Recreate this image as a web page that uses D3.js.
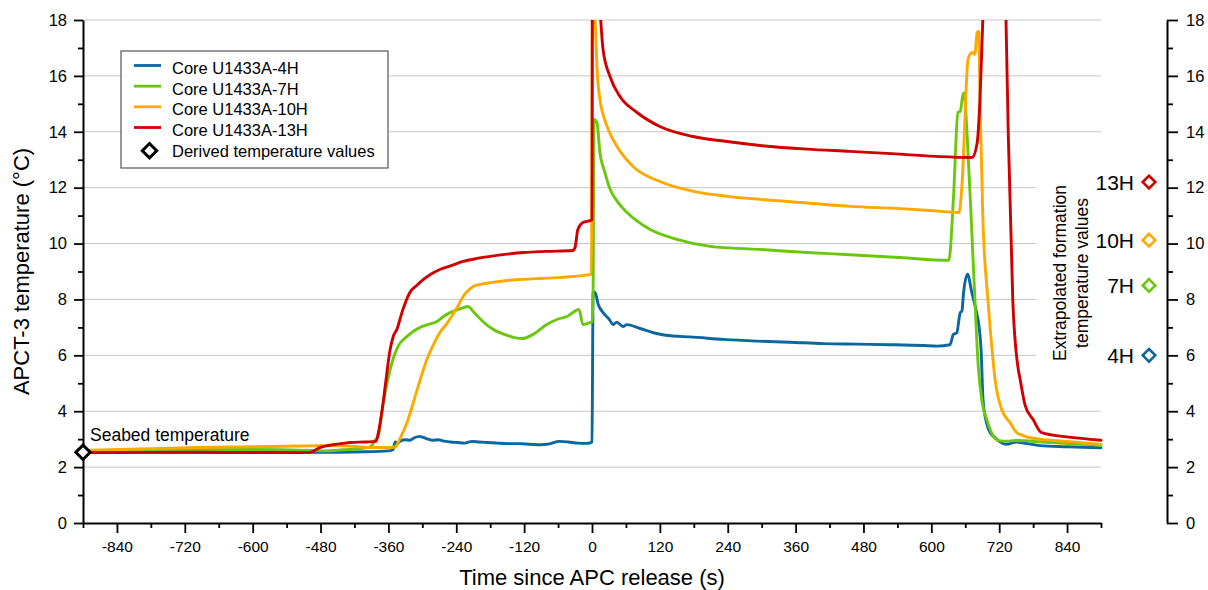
<!DOCTYPE html>
<html><head><meta charset="utf-8">
<script src="https://cdn.jsdelivr.net/npm/d3@7"></script>
<style>
body{margin:0;background:#fff;}
svg text{font-family:"Liberation Sans",Arial,Helvetica,sans-serif;fill:#000;}
</style></head><body>
<svg id="chart" width="1208" height="590"></svg>
<script>
// ---------- data (time since APC release [s], temperature [°C]) ----------
const seriesNames = ["Core U1433A-4H","Core U1433A-7H","Core U1433A-10H","Core U1433A-13H"];
const seriesColors = ["#0b67a0","#6ac70c","#ffa800","#d00000"];

const core4H = [[-900,2.52],[-700,2.53],[-500,2.53],[-400,2.55],[-360,2.58],[-352,2.62],[-348,2.9],[-344,2.85],[-338,2.95],[-330,2.98],[-322,2.96],[-314,3.05],[-305,3.1],[-298,3.06],[-290,3.0],[-282,2.96],[-272,2.98],[-262,2.93],[-250,2.9],[-238,2.88],[-225,2.86],[-212,2.92],[-200,2.9],[-185,2.88],[-168,2.86],[-150,2.84],[-130,2.84],[-110,2.82],[-92,2.8],[-75,2.83],[-58,2.92],[-42,2.9],[-25,2.86],[-10,2.85],[-2,2.88],[0,2.9],[2,8.26],[5.3,8.26],[11,7.82],[20,7.52],[30,7.3],[37.7,7.1],[43.7,7.19],[54.8,7.03],[61.4,7.1],[85,6.96],[114,6.78],[143,6.69],[173,6.66],[232,6.57],[291,6.51],[350,6.47],[409,6.42],[468,6.4],[527,6.38],[586,6.35],[610,6.33],[633,6.38],[639,6.75],[645,6.81],[651,7.52],[654,7.58],[657,8.24],[664,8.9],[671.5,8.25],[680,7.53],[684.4,7.03],[688,6.2],[691.4,4.42],[698,3.55],[705,3.2],[712.7,3.06],[720,2.92],[733,2.82],[750,2.9],[770,2.84],[792,2.77],[840,2.73],[900,2.69]];

const core7H = [[-900,2.55],[-800,2.6],[-700,2.62],[-600,2.63],[-500,2.6],[-470,2.58],[-440,2.62],[-410,2.66],[-392,2.72],[-384,2.95],[-378,3.1],[-370,4.17],[-357,5.49],[-343,6.32],[-327,6.68],[-304,7.0],[-290,7.1],[-274,7.21],[-262,7.4],[-251,7.53],[-235,7.65],[-219,7.75],[-210,7.57],[-193,7.21],[-175,6.93],[-150,6.71],[-124,6.6],[-104,6.75],[-80,7.1],[-60,7.3],[-44,7.39],[-23,7.64],[-16,7.1],[-3.5,7.17],[0,7.2],[2,8.35],[3.5,14.44],[8.8,14.33],[14,13.25],[22,12.6],[32,11.94],[45,11.5],[62,11.11],[80,10.8],[103,10.5],[150,10.15],[209,9.9],[297,9.79],[380,9.68],[456,9.6],[545,9.5],[631,9.4],[639,11.58],[647,14.69],[651,14.73],[656,15.33],[658,15.4],[663,13.97],[670,11.11],[677,8.0],[683,5.6],[690,4.3],[698,3.7],[705,3.3],[710,3.1],[720,2.95],[733,2.93],[750,2.95],[810,2.88],[900,2.78]];

const core10H = [[-900,2.6],[-800,2.65],[-700,2.7],[-600,2.73],[-500,2.76],[-460,2.77],[-420,2.74],[-390,2.7],[-360,2.7],[-348,2.72],[-340,3.0],[-327,3.6],[-309,4.78],[-292,5.85],[-280,6.4],[-269,6.82],[-258,7.1],[-246,7.46],[-236,7.8],[-228,8.1],[-220,8.3],[-210,8.46],[-195,8.55],[-180,8.6],[-150,8.68],[-120,8.72],[-92,8.75],[-60,8.78],[-34,8.82],[-7,8.88],[-1,8.9],[1,20],[3,19],[5.5,18],[8.8,16.3],[14,15.15],[20,14.6],[26.5,14.2],[44,13.48],[72.5,12.76],[120,12.22],[179,11.87],[239,11.69],[297,11.58],[380,11.45],[456,11.33],[545,11.25],[600,11.18],[649,11.11],[654,12.05],[665,16.6],[672,16.84],[677,16.77],[681,17.55],[684,17.6],[686,15.15],[691,10.97],[700,8.0],[709,5.85],[712.7,5.14],[724.5,4.06],[739,3.6],[751,3.23],[757,3.17],[770,3.07],[792,3.0],[840,2.92],[900,2.81]];

const core13H = [[-900,2.52],[-700,2.53],[-600,2.52],[-500,2.52],[-490,2.6],[-481,2.7],[-470,2.76],[-458,2.8],[-440,2.85],[-428,2.88],[-400,2.9],[-382,2.92],[-378,3.2],[-371,4.06],[-365,5.0],[-357,6.2],[-351,6.7],[-345,6.93],[-335,7.6],[-322,8.25],[-310,8.5],[-299,8.7],[-285,8.9],[-269,9.07],[-250,9.2],[-228,9.36],[-205,9.46],[-180,9.54],[-150,9.62],[-122,9.68],[-80,9.72],[-34,9.75],[-30,9.86],[-25,10.5],[-16,10.75],[-2,10.83],[0,10.85],[1,24],[8,21],[11,19.2],[15.4,18],[19.5,16.95],[31.8,15.98],[49.5,15.26],[79.6,14.69],[120,14.19],[179,13.83],[239,13.65],[297,13.51],[380,13.38],[456,13.3],[545,13.2],[615,13.11],[672,13.08],[681,13.6],[686,15.15],[691,18],[700,22],[725,22],[732,18],[736,13.97],[744,8.0],[753,5.6],[757,5.14],[766,4.2],[780,3.7],[795,3.23],[840,3.08],[900,2.96]];

const seriesData = [core4H, core7H, core10H, core13H];

const derivedLabels = ["13H","10H","7H","4H"];
const derivedValues = [12.2, 10.12, 8.5, 6.0];
const derivedColors = ["#d00000","#ffa800","#6ac70c","#0b67a0"];

const seabedTime = -900, seabedTemp = 2.53;

const xMajorTicks = [-840,-720,-600,-480,-360,-240,-120,0,120,240,360,480,600,720,840];
const xTickLabels = ["-840","-720","-600","-480","-360","-240","-120","0","120","240","360","480","600","720","840"];
const xMinorTicks = [-900,-780,-660,-540,-420,-300,-180,-60,60,180,300,420,540,660,780,900];
const yMajorTicks = [0,2,4,6,8,10,12,14,16,18];
const yTickLabels = ["0","2","4","6","8","10","12","14","16","18"];
const yMinorTicks = [1,3,5,7,9,11,13,15,17];
const gridValues = [2,4,6,8,10,12,14,16,18];

// ---------- layout ----------
const svg = d3.select("#chart");
const L = 83, R = 1101, T = 20, B = 523, RA = 1167;
const x = d3.scaleLinear().domain([-900, 900]).range([L, R]);
const y = d3.scaleLinear().domain([0, 18]).range([B, T]);

// grid
svg.append("g").selectAll("line").data(gridValues).join("line")
  .attr("x1", L).attr("x2", R).attr("y1", d => y(d)).attr("y2", d => y(d))
  .attr("stroke", "#c6c6c6").attr("stroke-width", 1);

// white box behind rotated label
svg.append("rect").attr("x", 1036).attr("y", 140).attr("width", 70).attr("height", 258).attr("fill", "#fff");

// clip
svg.append("defs").append("clipPath").attr("id", "plotclip")
  .append("rect").attr("x", L - 2).attr("y", T).attr("width", R - L + 4).attr("height", B - T + 2);

// lines
const line = d3.line().x(d => x(d[0])).y(d => y(d[1])).curve(d3.curveMonotoneX);
svg.append("g").attr("clip-path", "url(#plotclip)").selectAll("path").data(seriesData).join("path")
  .attr("d", line).attr("fill", "none").attr("stroke", (d, i) => seriesColors[i])
  .attr("stroke-width", 2.9).attr("stroke-linejoin", "round").attr("stroke-linecap", "round");

// axes
function styleAxis(g, fs) {
  g.attr("font-size", fs);
  g.selectAll(".tick line").attr("stroke", "#000").attr("stroke-width", 1.8);
  g.select(".domain").attr("stroke", "#000").attr("stroke-width", 2);
}
const xMinor = svg.append("g").attr("transform", `translate(0,${B})`)
  .call(d3.axisBottom(x).tickValues(xMinorTicks).tickSize(5).tickSizeOuter(0).tickFormat(""));
styleAxis(xMinor, 15); xMinor.select(".domain").remove();
const xMajor = svg.append("g").attr("transform", `translate(0,${B})`)
  .call(d3.axisBottom(x).tickValues(xMajorTicks).tickSize(10).tickSizeOuter(0).tickPadding(8)
    .tickFormat((d, i) => xTickLabels[i]));
styleAxis(xMajor, 15.5);

const yMinor = svg.append("g").attr("transform", `translate(${L},0)`)
  .call(d3.axisLeft(y).tickValues(yMinorTicks).tickSize(5).tickSizeOuter(0).tickFormat(""));
styleAxis(yMinor, 16); yMinor.select(".domain").remove();
const yMajor = svg.append("g").attr("transform", `translate(${L},0)`)
  .call(d3.axisLeft(y).tickValues(yMajorTicks).tickSize(9).tickSizeOuter(0).tickPadding(7)
    .tickFormat((d, i) => yTickLabels[i]));
styleAxis(yMajor, 16.5);

const rMinor = svg.append("g").attr("transform", `translate(${RA},0)`)
  .call(d3.axisRight(y).tickValues(yMinorTicks).tickSize(6).tickSizeOuter(0).tickFormat(""));
styleAxis(rMinor, 16); rMinor.select(".domain").remove();
const rMajor = svg.append("g").attr("transform", `translate(${RA},0)`)
  .call(d3.axisRight(y).tickValues(yMajorTicks).tickSize(11).tickSizeOuter(0).tickPadding(8)
    .tickFormat((d, i) => yTickLabels[i]));
styleAxis(rMajor, 16.5);

// axis titles
svg.append("text").attr("x", (L + R) / 2).attr("y", 584.5).attr("text-anchor", "middle")
  .attr("font-size", 22).text("Time since APC release (s)");
svg.append("text").attr("transform", `translate(29,${(T + B) / 2}) rotate(-90)`).attr("text-anchor", "middle")
  .attr("font-size", 22).text("APCT-3 temperature (°C)");

// right rotated label
const rl = svg.append("g").attr("font-size", 17.5);
rl.append("text").attr("transform", "translate(1066,273) rotate(-90)").attr("text-anchor", "middle").text("Extrapolated formation");
rl.append("text").attr("transform", "translate(1088,273) rotate(-90)").attr("text-anchor", "middle").text("temperature values");

// diamond path helper
function diamond(cx, cy, r) {
  return `M${cx},${cy - r}L${cx + r},${cy}L${cx},${cy + r}L${cx - r},${cy}Z`;
}

// derived temperature markers on right axis
const dg = svg.append("g");
dg.selectAll("path").data(derivedValues).join("path")
  .attr("d", d => diamond(1149, y(d), 6.3)).attr("fill", "#fff")
  .attr("stroke", (d, i) => derivedColors[i]).attr("stroke-width", 2.6);
dg.selectAll("text").data(derivedValues).join("text")
  .attr("x", 1134).attr("y", d => y(d) + 7.5).attr("text-anchor", "end").attr("font-size", 21)
  .text((d, i) => derivedLabels[i]);

// seabed temperature
svg.append("path").attr("d", diamond(x(seabedTime), y(seabedTemp), 7.2))
  .attr("fill", "#fff").attr("stroke", "#000").attr("stroke-width", 3);
svg.append("text").attr("x", 90).attr("y", 441).attr("font-size", 17.5).text("Seabed temperature");

// legend
const lg = svg.append("g");
lg.append("rect").attr("x", 121).attr("y", 51).attr("width", 267).attr("height", 117)
  .attr("fill", "#fff").attr("stroke", "#555").attr("stroke-width", 1.2);
const rowBase = [74, 94.7, 115.3, 136, 156.7];
seriesNames.forEach((n, i) => {
  lg.append("line").attr("x1", 134).attr("x2", 161).attr("y1", rowBase[i] - 8.5).attr("y2", rowBase[i] - 8.5)
    .attr("stroke", seriesColors[i]).attr("stroke-width", 2.8);
  lg.append("text").attr("x", 172).attr("y", rowBase[i]).attr("font-size", 16.5).text(n);
});
lg.append("path").attr("d", diamond(149.5, rowBase[4] - 6, 7.2)).attr("fill", "#fff")
  .attr("stroke", "#000").attr("stroke-width", 3);
lg.append("text").attr("x", 172).attr("y", rowBase[4]).attr("font-size", 16.5).text("Derived temperature values");
</script>
</body></html>
